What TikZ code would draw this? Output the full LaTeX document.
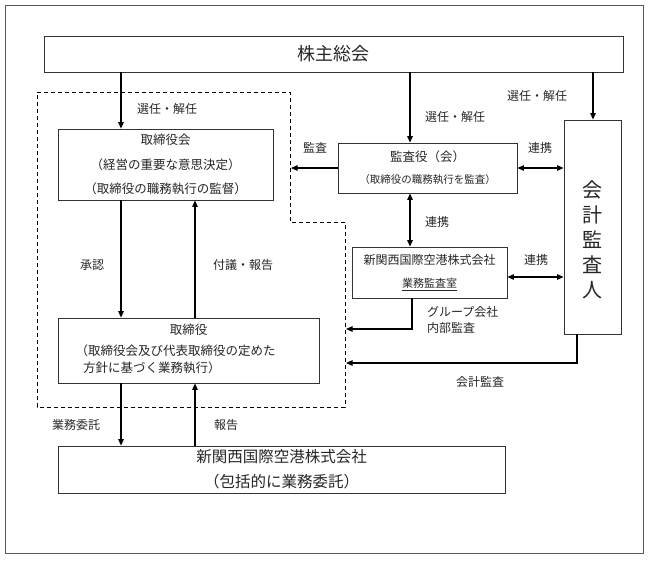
\documentclass[tikz,border=0pt]{standalone}
\usepackage{fontspec}
\setmainfont{Noto Sans CJK JP}
\usetikzlibrary{arrows.meta}
\newcommand\myfs[2]{\fontsize{#1}{#2}\selectfont}
\begin{document}
\begin{tikzpicture}[x=1pt,y=-1pt,
  box/.style={draw=black!80, line width=0.8pt, fill=white, inner sep=0pt, align=center, text=black!85},
  arr/.style={-{Triangle[length=6.5pt,width=5.5pt]}, line width=1.1pt},
  darr/.style={{Triangle[length=6.5pt,width=5.5pt]}-{Triangle[length=6.5pt,width=5.5pt]}, line width=1.1pt},
  lbl/.style={font=\myfs{12}{16}, text=black!85, inner sep=0pt},
  dashline/.style={line width=0.8pt, dash pattern=on 4pt off 3pt},
  frame/.style={draw=black!65, line width=1pt}]
\useasboundingbox (0,0) rectangle (648,560);
\draw[frame] (5,5) rectangle (643,553);
% dashed region
\draw[dashline] (37,92) -- (290,92) -- (290,222) -- (345,222) -- (345,407) -- (37,407) -- cycle;
% boxes
\node[box, minimum width=579pt, minimum height=36pt, font=\myfs{18}{20}] (gm) at (333.5,54) {株主総会};
\node[box, minimum width=215pt, minimum height=71pt, font=\myfs{12.5}{24.5}] (bod) at (165.5,164.5) {取締役会\\（経営の重要な意思決定）\\（取締役の職務執行の監督）};
\node[box, minimum width=179pt, minimum height=50pt, font=\myfs{12.5}{22}] (kansa) at (427.5,168) {監査役（会）\\{\myfs{10.5}{22}（取締役の職務執行を監査）}};
\node[box, minimum width=57pt, minimum height=214pt] (audit) at (592.5,227) {};
\node[font=\myfs{20}{25}, align=center, text=black!85, inner sep=0pt] (auditt) at (592.5,240) {会\\計\\監\\査\\人};
\node[box, minimum width=155pt, minimum height=51pt, font=\myfs{12}{23}] (naibu) at (429.5,272.5) {新関西国際空港株式会社\\{\myfs{11}{23}\underline{業務監査室}}};
\node[box, minimum width=261pt, minimum height=65pt, font=\myfs{12.5}{17}] (dir) at (188.5,350.5) {取締役\\[4pt]\begin{tabular}[t]{@{}l@{}}（取締役会及び代表取締役の定めた\\\hspace*{0.6em}方針に基づく業務執行）\end{tabular}\hspace*{26pt}};
\node[box, minimum width=447pt, minimum height=47pt, font=\myfs{15.5}{25}] (co) at (281.5,469.5) {新関西国際空港株式会社\\（包括的に業務委託）};
% helper coordinates
\coordinate (xa) at (121,0);
\coordinate (xb) at (195,0);
\coordinate (xk) at (410,0);
\coordinate (xr) at (593,0);
\coordinate (xg) at (412,0);
\coordinate (xc) at (577,0);
\coordinate (yn) at (0,277);
\coordinate (dk) at (291,168);
\coordinate (g1) at (346,329);
\coordinate (g2) at (346,363);
% connectors
\draw[arr] (gm.south -| xa) -- (bod.north -| xa);
\draw[arr] (gm.south -| xk) -- (kansa.north -| xk);
\draw[arr] (gm.south -| xr) -- (audit.north -| xr);
\draw[arr] (bod.south -| xa) -- (dir.north -| xa);
\draw[arr] (dir.north -| xb) -- (bod.south -| xb);
\draw[arr] (dir.south -| xa) -- (co.north -| xa);
\draw[arr] (co.north -| xb) -- (dir.south -| xb);
\draw[arr] (kansa.west) -- (dk);
\draw[darr] (kansa.east) -- (kansa.east -| audit.west);
\draw[darr] (kansa.south -| xk) -- (naibu.north -| xk);
\draw[darr] (naibu.east |- yn) -- (audit.west |- yn);
\draw[arr] (naibu.south -| xg) |- (g1);
\draw[arr] (audit.south -| xc) |- (g2);
% labels
\node[lbl] (l1) at (167,109) {選任・解任};
\node[lbl] (l2) at (455,117) {選任・解任};
\node[lbl] (l3) at (537,96) {選任・解任};
\node[lbl] (l4) at (315,148) {監査};
\node[lbl] (l5) at (540,148) {連携};
\node[lbl] (l6) at (437,222) {連携};
\node[lbl] (l7) at (536,260) {連携};
\node[lbl] (l8) at (92,265) {承認};
\node[lbl] (l9) at (243,265) {付議・報告};
\node[lbl, align=left, anchor=west, font=\myfs{12}{16}] (l10) at (427,320) {グループ会社\\内部監査};
\node[lbl] (l11) at (480,382) {会計監査};
\node[lbl] (l12) at (76,425) {業務委託};
\node[lbl] (l13) at (226,425) {報告};
\end{tikzpicture}
\end{document}
